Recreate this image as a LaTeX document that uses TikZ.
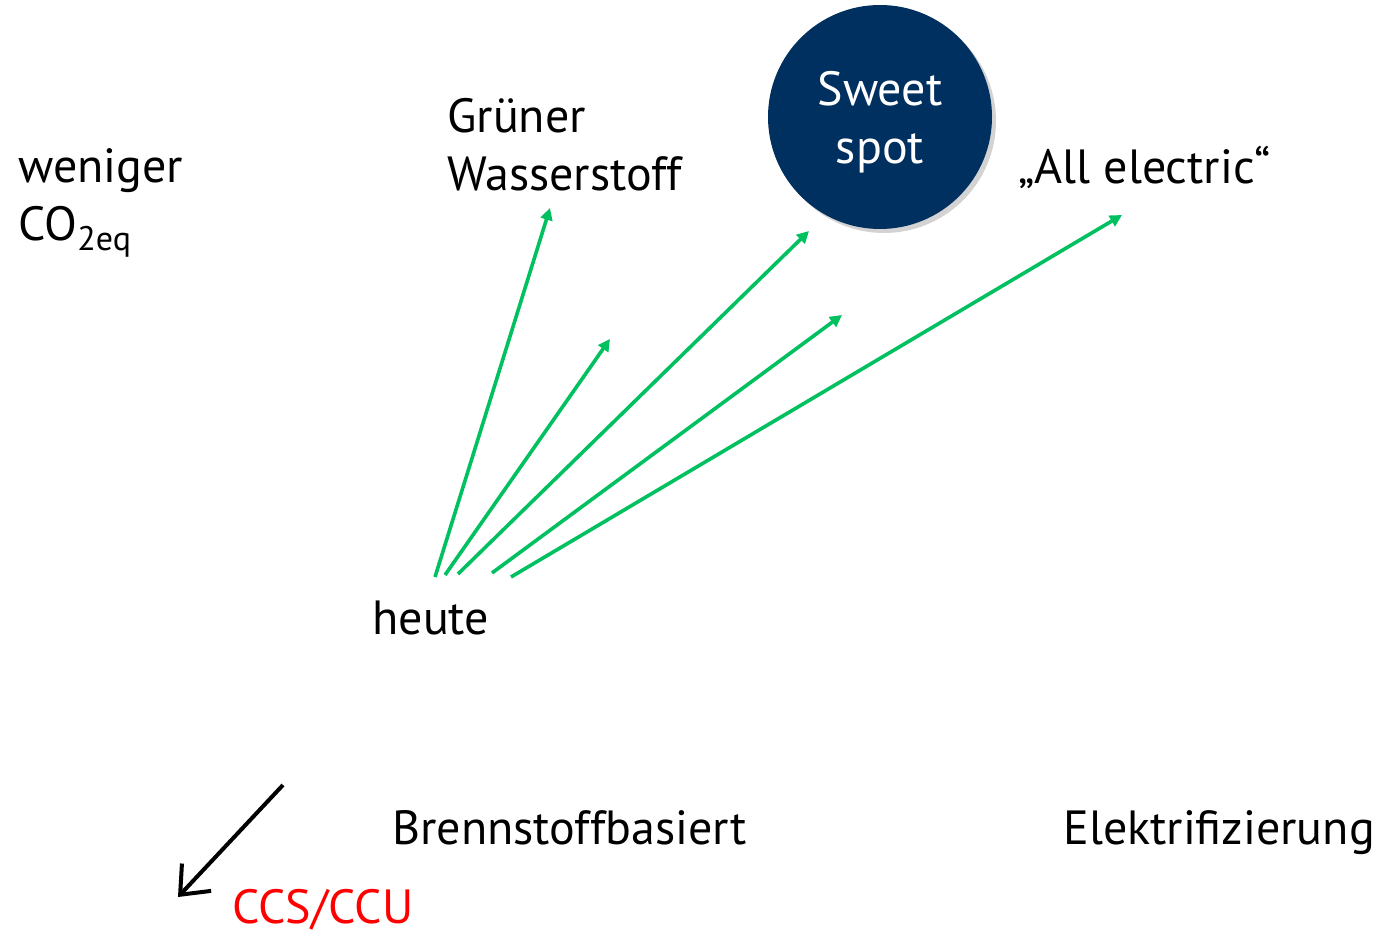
\documentclass[tikz,border=0pt]{standalone}
\usepackage{fontspec}
\setmainfont{PT Sans}
\usetikzlibrary{arrows.meta,shadows}
\definecolor{navy}{HTML}{003060}
\definecolor{arrowgreen}{HTML}{00C060}
\definecolor{ccsred}{HTML}{FF0000}
\begin{document}
\begin{tikzpicture}[x=0.5pt, y=-0.5pt,
    every node/.style={font=\fontsize{24}{29}\selectfont, inner sep=0pt, align=left},
    path/.style={arrowgreen, line width=1.8pt, -{Triangle[length=6pt, width=6pt]}}]
    % Bounding box of the picture
    \useasboundingbox (0,0) rectangle (1376,935);
    % Labels
    \node[anchor=west] (weniger) at (18,203) {weniger\\CO\raisebox{-0.45ex}{\fontsize{17}{20}\selectfont 2eq}};
    \node[anchor=west] (gruen) at (447,145) {Grüner\\Wasserstoff};
    \node[anchor=west] (allel) at (1018,167) {„All electric“};
    \node[anchor=west] (heute) at (372,618) {heute};
    \node[anchor=west] (brenn) at (392,828) {Brennstoffbasiert};
    \node[anchor=west] (elek) at (1063,833) {Elektrifizierung};
    \node[anchor=west, text=ccsred] (ccs) at (232,910) {CCS/CCU};
    % Sweet spot circle
    \node[circle, fill=navy, minimum size=112pt, text=white, align=center,
          drop shadow={shadow xshift=2pt, shadow yshift=-2pt, opacity=0.35}] (sweet) at (880,117) {};
    \node[text=white, align=center] (sweettext) at (880,122) {Sweet\\spot};
    % Arrows from today
    \coordinate (s1) at (435,577); \coordinate (e1) at (550,208);
    \coordinate (s2) at (445,575); \coordinate (e2) at (610,339);
    \coordinate (s3) at (458,574); \coordinate (e3) at (809,231);
    \coordinate (s4) at (492,573); \coordinate (e4) at (842,315);
    \coordinate (s5) at (511,577); \coordinate (e5) at (1122,215);
    \foreach \i in {1,...,5}
        \draw[path] (s\i) -- (e\i);
    % CCS arrow
    \coordinate (c1) at (283,785); \coordinate (c2) at (178,897);
    \draw[black, line width=2pt, -{Straight Barb[length=12pt, width=20pt]}] (c1) -- (c2);
\end{tikzpicture}
\end{document}
